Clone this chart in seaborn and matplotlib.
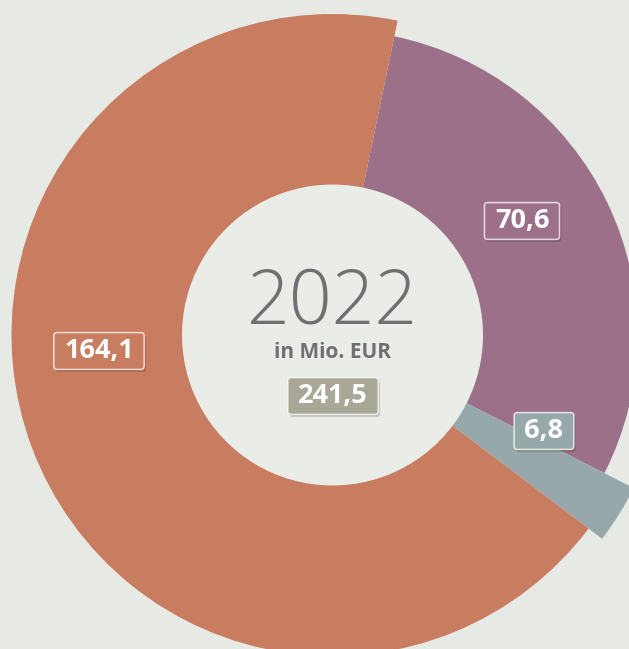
"""Donut chart: Ausgaben 2022 in Mio. EUR."""

import matplotlib

matplotlib.use("Agg")

import matplotlib.pyplot as plt
import matplotlib.patheffects as pe
from matplotlib.patches import BoxStyle
import seaborn as sns

# data (clockwise, starting just right of 12 o'clock)
SEGMENT_NAMES = ["lila", "grau", "orange"]
SEGMENT_VALUES = [70.6, 6.8, 164.1]
SEGMENT_LABELS = ["70,6", "6,8", "164,1"]
TOTAL_LABEL = "241,5"
YEAR_LABEL = "2022"
UNIT_LABEL = "in Mio. EUR"

# styling
COLORS = ["#9c7089", "#97a8aa", "#c87c60"]
OUTER_RADII = [305, 338, 321]
INNER_RADIUS = 150.5
TOTAL_BOX_COLOR = "#a9a898"
BACKGROUND = "#e7e9e4"
HOLE = "#eaece8"
TEXT_GREY = "#707070"

WIDTH_PX, HEIGHT_PX = 629, 649
CENTER = (332.5, HEIGHT_PX - 335)
# label anchor positions in pixel coordinates (x, y from top)
LABEL_POSITIONS = [(522, 221), (544, 431), (99, 351)]
TOTAL_POSITION = (333, 396)


def padded_box(pad_x: float, pad_y: float, rounding: float = 0.12):
    """Rounded box style with separate horizontal/vertical padding."""
    base = BoxStyle.Round(pad=0, rounding_size=rounding)

    def style(x0, y0, width, height, mutation_size):
        px = pad_x * mutation_size
        py = pad_y * mutation_size
        return base(x0 - px, y0 - py, width + 2 * px, height + 2 * py, mutation_size)

    return style


def label_box(ax, text, pos, face):
    """Draw a white value label inside a coloured box."""
    label = ax.text(
        pos[0],
        HEIGHT_PX - pos[1],
        text,
        ha="center",
        va="center",
        color="white",
        fontsize=19.5,
        fontweight="bold",
        bbox=dict(
            boxstyle=padded_box(0.38, 0.2),
            facecolor=face,
            edgecolor=(1, 1, 1, 0.75),
            linewidth=1.1,
        ),
        zorder=5,
    )
    label.get_bbox_patch().set_path_effects(
        [
            pe.SimplePatchShadow(offset=(1.2, -1.8), shadow_rgbFace="#000000", alpha=0.18),
            pe.Normal(),
        ]
    )
    return label


sns.set_theme(style="white")
plt.rcParams["font.family"] = ["Open Sans", "DejaVu Sans"]

fig = plt.figure(figsize=(WIDTH_PX / 100, HEIGHT_PX / 100), dpi=100)
fig.patch.set_facecolor(BACKGROUND)
ax = fig.add_axes([0, 0, 1, 1])
ax.set_facecolor(BACKGROUND)

wedges, _ = ax.pie(
    SEGMENT_VALUES,
    colors=COLORS,
    startangle=90 - 11.7,
    counterclock=False,
    center=CENTER,
    radius=OUTER_RADII[2],
    wedgeprops=dict(width=OUTER_RADII[2] - INNER_RADIUS, linewidth=0),
)
for wedge, radius in zip(wedges, OUTER_RADII):
    wedge.set_radius(radius)
    wedge.set_width(radius - INNER_RADIUS)

hole = plt.Circle(CENTER, INNER_RADIUS, facecolor=HOLE, edgecolor="none", zorder=0.5)
ax.add_patch(hole)

ax.set_xlim(0, WIDTH_PX)
ax.set_ylim(0, HEIGHT_PX)
ax.set_aspect("equal")
ax.axis("off")

for text, pos, color in zip(SEGMENT_LABELS, LABEL_POSITIONS, COLORS):
    label_box(ax, text, pos, color)

ax.text(
    CENTER[0],
    HEIGHT_PX - 323,
    YEAR_LABEL,
    ha="center",
    va="baseline",
    color=TEXT_GREY,
    fontsize=54,
    fontweight="light",
)
ax.text(
    CENTER[0],
    HEIGHT_PX - 358,
    UNIT_LABEL,
    ha="center",
    va="baseline",
    color=TEXT_GREY,
    fontsize=15,
    fontweight="bold",
)
label_box(ax, TOTAL_LABEL, TOTAL_POSITION, TOTAL_BOX_COLOR)

fig.savefig("out.png", dpi=100, facecolor=BACKGROUND)
